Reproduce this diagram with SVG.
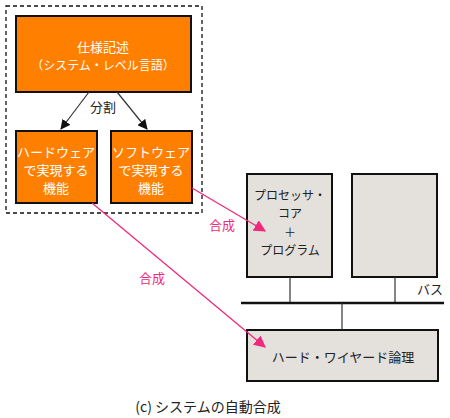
<svg xmlns="http://www.w3.org/2000/svg" width="450" height="418" viewBox="0 0 450 418">
<defs>
<style>
text{font-family:"Noto Sans CJK JP","Liberation Sans",sans-serif;font-size:13px;text-anchor:middle}
.s{font-size:12px}
.w{fill:#fff}
.k{fill:#222}
.p{fill:#ee2a7b}
.or{fill:#ff8000;stroke:#111;stroke-width:2}
.gr{fill:#e4e0dc;stroke:#111;stroke-width:2}
.ln{stroke:#333;stroke-width:1.2;fill:none}
</style>
<marker id="ab" viewBox="0 0 10 10" refX="9" refY="5" markerWidth="10" markerHeight="10" markerUnits="userSpaceOnUse" orient="auto"><path d="M0,0L10,5L0,10z" fill="#111"/></marker>
<marker id="ap" viewBox="0 0 10 10" refX="9" refY="5" markerWidth="12" markerHeight="12" markerUnits="userSpaceOnUse" orient="auto"><path d="M0,0L10,5L0,10z" fill="#ee2a7b"/></marker>
</defs>
<rect x="6" y="6" width="196" height="207" fill="none" stroke="#111" stroke-width="1.3" stroke-dasharray="4,3"/>
<g id="spec"><rect class="or" x="16" y="16" width="175" height="76"/><text class="w" x="103" y="52">仕様記述</text><text class="w s" x="103" y="70">（システム・レベル言語）</text></g>
<g id="hw"><rect class="or" x="16" y="131" width="81" height="72"/><text class="w" x="56" y="157">ハードウェア</text><text class="w" x="56" y="175">で実現する</text><text class="w" x="56" y="193">機能</text></g>
<g id="sw"><rect class="or" x="111" y="131" width="81" height="72"/><text class="w" x="151" y="157">ソフトウェア</text><text class="w" x="151" y="175">で実現する</text><text class="w" x="151" y="193">機能</text></g>
<g id="cpu"><rect class="gr" x="247" y="174" width="85" height="103"/><text class="k s" x="290" y="200">プロセッサ・</text><text class="k s" x="290" y="218">コア</text><text class="k s" x="290" y="237">＋</text><text class="k s" x="290" y="255">プログラム</text></g>
<g id="other"><rect class="gr" x="352" y="174" width="85" height="103"/></g>
<g id="hwlogic"><rect class="gr" x="247" y="330" width="191" height="51"/><text class="k" x="343" y="362">ハード・ワイヤード論理</text></g>
<g id="connectors">
<line class="ln" x1="89" y1="92" x2="61" y2="129" stroke="#111" marker-end="url(#ab)"/>
<line class="ln" x1="117" y1="92" x2="147" y2="129" stroke="#111" marker-end="url(#ab)"/>
<text class="k" x="103" y="112">分割</text>
<line class="ln" x1="290" y1="277" x2="290" y2="303"/>
<line class="ln" x1="395" y1="277" x2="395" y2="303"/>
<line x1="241" y1="303" x2="444" y2="303" stroke="#111" stroke-width="2.5"/>
<line class="ln" x1="342" y1="303" x2="342" y2="330"/>
<line x1="192" y1="188" x2="265" y2="231" stroke="#ee2a7b" stroke-width="1.3" marker-end="url(#ap)"/>
<line x1="92" y1="203" x2="265" y2="347" stroke="#ee2a7b" stroke-width="1.3" marker-end="url(#ap)"/>
<text class="p" x="222" y="230">合成</text>
<text class="p" x="152" y="283">合成</text>
</g>
<text class="k" x="430" y="294">バス</text>
<text class="k" x="208" y="412" style="font-size:14px">(c) システムの自動合成</text>
</svg>
